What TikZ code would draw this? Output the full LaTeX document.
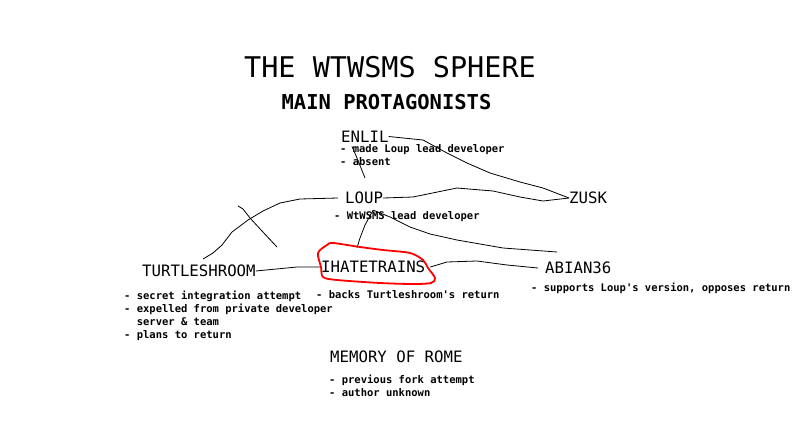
\documentclass[tikz,border=0pt]{standalone}
\usepackage{fontspec}
\setmonofont{DejaVu Sans Mono}
\usetikzlibrary{calc}

\begin{document}
\begin{tikzpicture}[
    x=1pt, y=-1pt,
    heading/.style={inner sep=0, font=\ttfamily\fontsize{28.5}{32}\selectfont},
    subheading/.style={inner sep=0, font=\ttfamily\bfseries\fontsize{20.5}{24}\selectfont},
    person/.style={anchor=west, inner sep=0, font=\ttfamily\fontsize{15.7}{18}\selectfont},
    note/.style={anchor=north west, inner sep=0, align=left, font=\ttfamily\bfseries\fontsize{10.5}{13}\selectfont},
    link/.style={black, line width=0.8pt},
    ring/.style={red, line width=1.8pt}
]
\fill[white] (0,0) rectangle (800,439);
\useasboundingbox (0,0) rectangle (800,439);

% titles
\node[heading] (title) at (390,67) {THE WTWSMS SPHERE};
\node[subheading] (subtitle) at (386.5,102) {MAIN PROTAGONISTS};

% people
\node[person] (enlil) at (341,136.5) {ENLIL};
\node[note] (enlilnote) at (340,144) {- made Loup lead developer\\- absent};
\node[person] (loup) at (345,198) {LOUP};
\node[note] (loupnote) at (334,211) {- WtWSMS lead developer};
\node[person] (zusk) at (569,198) {ZUSK};
\node[person] (turtle) at (142,271) {TURTLESHROOM};
\node[note] (turtlenote) at (124,291) {- secret integration attempt\\- expelled from private developer\\\hphantom{xx}server \& team\\- plans to return};
\node[person] (ihate) at (321,267) {IHATETRAINS};
\node[note] (ihatenote) at (316,290) {- backs Turtleshroom's return};
\node[person] (abian) at (545,268) {ABIAN36};
\node[note] (abiannote) at (531,283) {- supports Loup's version, opposes return};
\node[person] (rome) at (330,357) {MEMORY OF ROME};
\node[note] (romenote) at (329,375) {- previous fork attempt\\- author unknown};

% free ends
\coordinate (enlildown) at (365,178);
\coordinate (turtletop) at (203,259);
\coordinate (ihatetop) at (357,248);
\coordinate (abiantop) at (557,252);

% links
\draw[link] (enlil.east) -- (423,140) -- (447,153) -- (467,163) -- (490,173) -- (520,182) -- (543,188) -- (zusk.west);
\draw[link] (loup.east) -- (413,197) -- (457,188) -- (493,191) -- (520,197) -- (543,201) -- (zusk.west);
\draw[link] ([xshift=11pt,yshift=-4pt]enlil.south west) -- (357,158) -- (enlildown);
\draw[link] ([xshift=-7pt]loup.west) -- (300,199) -- (280,203) -- (263,211) -- (248,220) -- (232,232) -- (222,245) -- (213,253) -- (turtletop);
\draw[link] (238,206) -- (243,209) -- (250,218) -- (262,231) -- (277,247);
\draw[link] ([xshift=9pt,yshift=-6pt]loup.south) -- (365,225) -- (360,238) -- (ihatetop);
\draw[link] ([xshift=9pt,yshift=-6pt]loup.south) -- (390,217) -- (410,227) -- (430,234) -- (457,240) -- (503,248) -- (abiantop);
\draw[link] (turtle.east) -- (297,267) -- (ihate.west);
\draw[link] ([xshift=5pt]ihate.east) -- (447,262) -- (477,261) -- (507,265) -- (538,268);

% ring round IHATETRAINS
\draw[ring] plot[smooth cycle, tension=0.5] coordinates {(318,253) (327,245) (333,243) (360,247) (383,250) (410,253) (423,260) (428,268) (435,278) (431,283) (413,284) (380,283) (337,280) (323,277) (321,267)};
\end{tikzpicture}
\end{document}
